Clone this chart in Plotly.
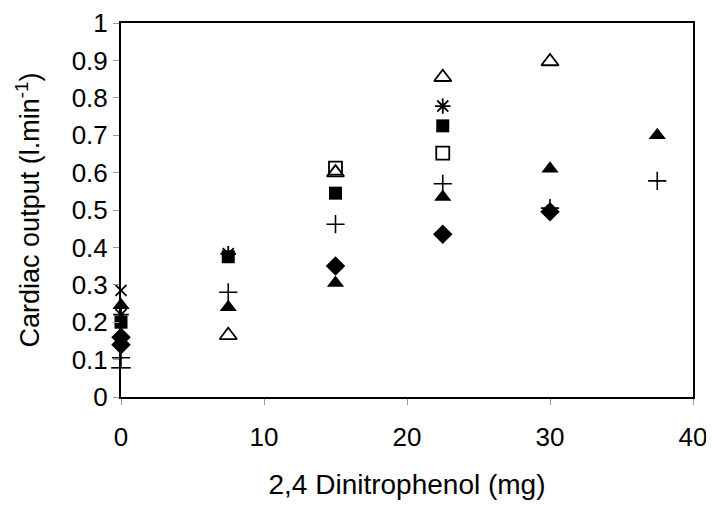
import plotly.graph_objects as go

# Dose of 2,4 Dinitrophenol (mg) and cardiac output (l/min) per series
diamond_x = [0, 0, 15, 22.5, 30]
diamond_y = [0.16, 0.14, 0.35, 0.435, 0.495]

square_x = [0, 7.5, 15, 22.5]
square_y = [0.20, 0.375, 0.545, 0.725]

tri_x = [0, 7.5, 15, 22.5, 30, 37.5]
tri_y = [0.245, 0.24, 0.305, 0.535, 0.61, 0.70]

tri_open_x = [7.5, 15, 22.5, 30]
tri_open_y = [0.165, 0.60, 0.855, 0.897]

sq_open_x = [15, 22.5]
sq_open_y = [0.612, 0.652]

star_x = [0, 7.5, 22.5]
star_y = [0.22, 0.383, 0.778]

cross_x = [0]
cross_y = [0.285]

plus_x = [0, 7.5, 15, 22.5, 30, 37.5]
plus_y = [0.105, 0.28, 0.462, 0.57, 0.505, 0.578]

dash_x = [0]
dash_y = [0.078]

x_ticks = [0, 10, 20, 30, 40]
y_ticks = [0, 0.1, 0.2, 0.3, 0.4, 0.5, 0.6, 0.7, 0.8, 0.9, 1]
y_tick_labels = ["0", "0.1", "0.2", "0.3", "0.4", "0.5", "0.6", "0.7", "0.8", "0.9", "1"]

fig = go.Figure()

def add(xs, ys, symbol, size, width=1.5):
    fig.add_trace(go.Scatter(
        x=xs, y=ys, mode="markers", showlegend=False, cliponaxis=False,
        marker=dict(symbol=symbol, size=size, color="black",
                    line=dict(color="black", width=width))))

add(tri_open_x, tri_open_y, "triangle-up-open", 15, 1.8)
add(sq_open_x, sq_open_y, "square-open", 13, 1.8)
add(star_x, star_y, "asterisk-open", 13, 1.8)
add(cross_x, cross_y, "x-thin-open", 11, 1.8)
add(plus_x, plus_y, "cross-thin-open", 13, 1.6)
add(dash_x, dash_y, "line-ew-open", 14, 1.6)
add(square_x, square_y, "square", 13, 0)
add(diamond_x, diamond_y, "diamond", 15, 0)
add(tri_x, tri_y, "triangle-up", 15, 0)

axis_common = dict(showline=True, linecolor="black", linewidth=2, mirror=True,
                   showgrid=False, zeroline=False, ticks="outside", automargin=False,
                   tickcolor="#999999", ticklen=6, tickwidth=1,
                   tickfont=dict(family="Liberation Sans", size=26, color="black"))

fig.update_xaxes(range=[0, 40], tickvals=x_ticks, ticklabelstandoff=10,
                 title=dict(text="2,4 Dinitrophenol (mg)", standoff=23,
                            font=dict(family="Liberation Sans", size=28, color="black")),
                 **axis_common)
fig.update_yaxes(range=[0, 1], tickvals=y_ticks, ticktext=y_tick_labels,
                 title=dict(text="Cardiac output (l.min<sup>-1</sup>)", standoff=24,
                            font=dict(family="Liberation Sans", size=27, color="black")),
                 **axis_common)

fig.update_layout(width=714, height=506, paper_bgcolor="white", plot_bgcolor="white",
                  margin=dict(l=113, r=29, t=15, b=117))

fig.write_html("out.html")
